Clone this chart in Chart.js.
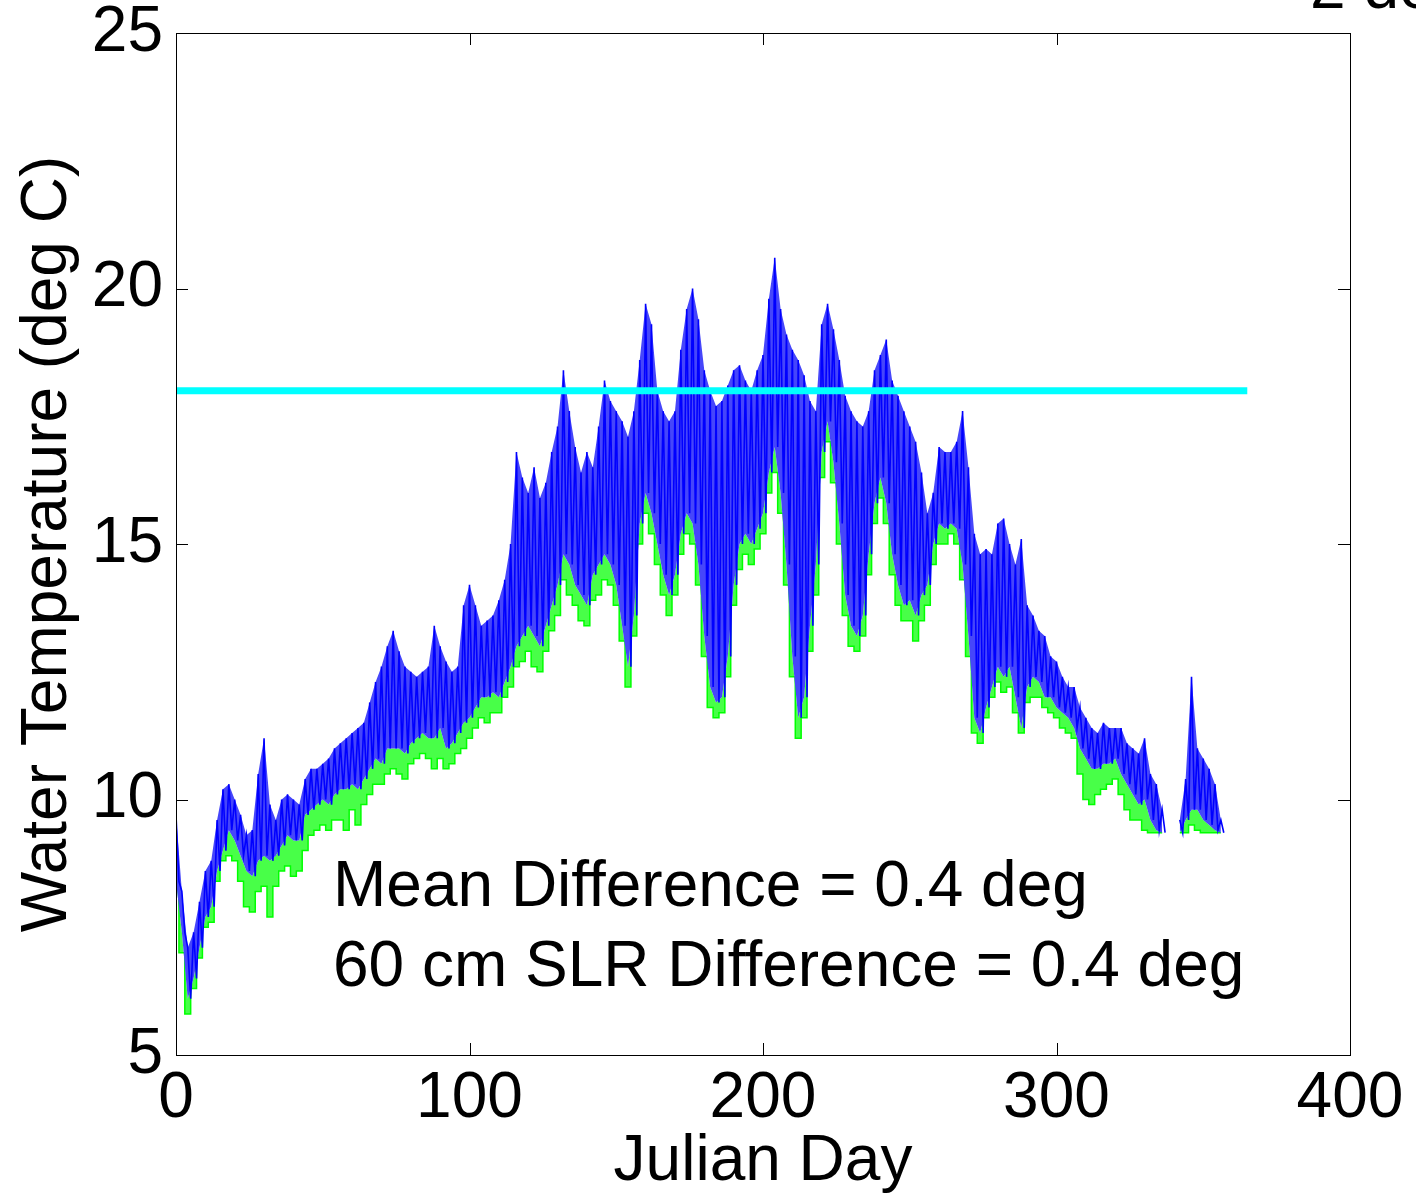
<!DOCTYPE html>
<html>
<head>
<meta charset="utf-8">
<script src="https://cdn.jsdelivr.net/npm/chart.js@4.4.0/dist/chart.umd.min.js"></script>
<style>
  html, body { margin: 0; padding: 0; background: #fff; }
</style>
</head>
<body>
<canvas id="myChart" width="1416" height="1201"></canvas>
<script>
const dayStep = 2;
const blueHigh = [
  9.7, 8.2, 7.1, 7.4, 8.0, 8.6, 8.8, 9.6, 10.2, 10.3,
  10.0, 9.7, 9.3, 9.4, 10.5, 11.2, 9.9, 9.6, 10.0, 10.1,
  10.0, 9.9, 10.4, 10.6, 10.6, 10.7, 10.8, 11.0, 11.1, 11.2,
  11.3, 11.4, 11.5, 11.9, 12.3, 12.6, 13.0, 13.3, 12.9, 12.6,
  12.5, 12.4, 12.5, 12.6, 13.4, 13.0, 12.7, 12.5, 12.6, 13.8,
  14.2, 13.8, 13.4, 13.5, 13.6, 13.9, 14.3, 15.0, 16.8, 16.3,
  16.0, 16.5, 15.9, 16.2, 16.8, 17.3, 18.4, 17.6, 16.9, 16.4,
  16.8, 16.5, 17.3, 18.2, 17.8, 17.6, 17.4, 17.1, 17.6, 18.6,
  19.7, 19.3, 18.0, 17.6, 17.4, 17.6, 18.8, 19.6, 20.0, 19.4,
  18.4, 18.0, 17.7, 17.8, 18.1, 18.4, 18.5, 18.2, 18.0, 18.4,
  18.7, 19.8, 20.6, 19.6, 19.1, 18.8, 18.6, 18.3, 17.8, 17.6,
  19.3, 19.7, 19.2, 18.6, 17.9, 17.6, 17.4, 17.3, 17.6, 18.4,
  18.7, 19.0, 18.2, 17.9, 17.6, 17.3, 17.0, 16.4, 15.6, 16.0,
  16.9, 16.8, 16.8, 17.0, 17.6, 16.5, 15.2, 14.8, 14.9, 14.8,
  15.4, 15.5, 15.0, 14.6, 15.1, 13.8, 13.6, 13.3, 13.2, 12.8,
  12.7, 12.4, 12.2, 12.2, 11.8, 11.6, 11.4, 11.3, 11.5, 11.4,
  11.4, 11.4, 11.1, 11.0, 10.9, 11.2, 10.5, 10.3, 9.8, null,
  null, 9.6, 10.4, 12.4, 11.0, 10.8, 10.6, 10.3, 9.6
];
const blueLow = [
  8.4, 7.4, 6.1, 6.5, 7.1, 7.7, 7.9, 8.6, 9.0, 9.4,
  9.2, 8.9, 8.6, 8.5, 8.8, 8.9, 8.8, 8.9, 9.1, 9.3,
  9.2, 9.2, 9.7, 9.8, 9.9, 10.0, 9.9, 10.1, 10.2, 10.2,
  10.3, 10.2, 10.4, 10.6, 10.8, 10.7, 11.0, 11.0, 11.0, 10.9,
  11.1, 11.2, 11.3, 11.2, 11.2, 11.4, 11.0, 11.1, 11.3, 11.5,
  11.6, 11.8, 12.0, 12.0, 12.1, 12.0, 12.3, 12.6, 13.0, 13.2,
  13.4, 13.2, 13.0, 13.4, 13.8, 14.2, 14.8, 14.6, 14.2, 14.0,
  13.8, 14.4, 14.6, 14.8, 14.6, 14.2, 13.4, 12.6, 13.6, 15.4,
  16.0, 15.6, 15.0, 14.4, 14.0, 14.4, 15.2, 15.6, 15.4, 14.6,
  13.2, 12.2, 11.9, 12.0, 12.8, 14.2, 15.0, 15.2, 15.0, 15.3,
  15.6, 16.4, 16.9, 16.0, 14.6, 12.8, 11.6, 12.0, 13.4, 14.6,
  16.8, 17.4, 16.6, 15.4, 14.0, 13.4, 13.2, 13.6, 14.8, 15.8,
  16.3, 15.8, 14.8, 14.2, 13.8, 13.9, 13.6, 14.0, 14.2, 15.0,
  15.4, 15.3, 15.4, 15.3, 14.6, 13.2, 11.6, 11.3, 11.8, 12.2,
  12.6, 12.4, 12.6, 12.0, 11.4, 12.2, 12.4, 12.3, 12.0, 12.0,
  11.8, 11.7, 11.6, 11.4, 11.0, 10.8, 10.6, 10.6, 10.7, 10.7,
  10.8, 10.5, 10.3, 10.1, 9.9, 10.0, 9.6, 9.4, 9.35, null,
  null, 9.35, 9.6, 9.8, 9.8, 9.6, 9.5, 9.4, 9.35
];
const greenLow = [
  8.3, 7.0, 5.8, 6.3, 6.9, 7.5, 7.6, 8.4, 8.8, 8.9,
  8.8, 8.4, 7.9, 7.8, 8.2, 8.3, 7.7, 8.3, 8.6, 8.7,
  8.5, 8.6, 9.0, 9.3, 9.4, 9.5, 9.4, 9.6, 9.6, 9.4,
  9.8, 9.5, 9.9, 10.1, 10.3, 10.3, 10.5, 10.6, 10.5, 10.4,
  10.7, 10.8, 10.9, 10.8, 10.6, 10.8, 10.6, 10.7, 10.9, 11.0,
  11.2, 11.4, 11.6, 11.5, 11.7, 11.7, 12.0, 12.2, 12.6, 12.7,
  12.9, 12.6, 12.5, 12.9, 13.3, 13.6, 14.3, 14.0, 13.8, 13.5,
  13.4, 13.9, 14.0, 14.3, 14.2, 13.8, 13.1, 12.2, 13.2, 15.0,
  15.6, 15.2, 14.6, 14.0, 13.6, 14.0, 14.8, 15.2, 15.0, 14.2,
  12.8, 11.8, 11.6, 11.7, 12.4, 13.8, 14.5, 14.8, 14.6, 14.9,
  15.2, 16.0, 16.4, 15.6, 14.2, 12.4, 11.2, 11.6, 12.9, 14.0,
  16.3, 17.0, 16.2, 15.0, 13.6, 13.0, 12.9, 13.2, 14.4, 15.4,
  15.9, 15.4, 14.4, 13.8, 13.5, 13.5, 13.1, 13.5, 13.8, 14.6,
  15.0, 15.0, 15.2, 15.0, 14.3, 12.8, 11.3, 11.1, 11.6, 12.0,
  12.3, 12.1, 12.2, 11.7, 11.3, 11.9, 12.0, 12.0, 11.8, 11.7,
  11.6, 11.4, 11.3, 11.2, 10.5, 10.0, 9.9, 10.1, 10.2, 10.3,
  10.4, 10.1, 9.8, 9.6, 9.6, 9.4, 9.35, 9.35, 9.35, null,
  null, 9.35, 9.35, 9.5, 9.4, 9.35, 9.35, 9.35, 9.35
];
const limitDays = [0, 365];
const limitTemp = 18;
const noteX = 53.5;
const noteY = [7.92, 6.35];
const noteLines = ['Mean Difference = 0.4 deg', '60 cm SLR Difference = 0.4 deg'];
const titleText = '2 deg';

const days = blueHigh.map((v, i) => i * dayStep);
const toPts = arr => arr.map((v, i) => ({ x: days[i], y: v }));

// zigzag high -> low -> high, so the band shows the daily swing as strokes
const swing = [];
blueHigh.forEach((v, i) => {
  swing.push({ x: days[i], y: v });
  swing.push({ x: days[i] + 1, y: blueLow[i] });
});

const FONT = "'Liberation Sans', Arial, Helvetica, sans-serif";

// box + inward ticks like matlab axes
const axesBox = {
  id: 'axesBox',
  afterDatasetsDraw(chart) {
    const { ctx, chartArea: a, scales: { x, y } } = chart;
    ctx.save();
    ctx.strokeStyle = '#000';
    ctx.lineWidth = 1;
    ctx.strokeRect(a.left + 0.5, a.top + 0.5, a.right - a.left, a.bottom - a.top);
    const tl = 12;
    ctx.beginPath();
    x.ticks.forEach(t => {
      const px = Math.round(x.getPixelForValue(t.value)) + 0.5;
      ctx.moveTo(px, a.bottom); ctx.lineTo(px, a.bottom - tl);
      ctx.moveTo(px, a.top); ctx.lineTo(px, a.top + tl);
    });
    y.ticks.forEach(t => {
      const py = Math.round(y.getPixelForValue(t.value)) + 0.5;
      ctx.moveTo(a.left, py); ctx.lineTo(a.left + tl, py);
      ctx.moveTo(a.right, py); ctx.lineTo(a.right - tl, py);
    });
    ctx.stroke();
    ctx.restore();
  }
};

const notes = {
  id: 'notes',
  afterDraw(chart) {
    const { ctx, scales: { x, y } } = chart;
    ctx.save();
    ctx.fillStyle = '#000';
    ctx.font = '64px ' + FONT;
    ctx.textBaseline = 'alphabetic';
    ctx.textAlign = 'left';
    noteLines.forEach((txt, i) => {
      ctx.fillText(txt, x.getPixelForValue(noteX), y.getPixelForValue(noteY[i]));
    });
    ctx.fillText(titleText, 1310, 8);
    ctx.restore();
  }
};

new Chart(document.getElementById('myChart'), {
  type: 'line',
  data: {
    datasets: [
      {
        data: limitDays.map(d => ({ x: d, y: limitTemp })),
        borderColor: '#00ffff',
        borderWidth: 7,
        pointRadius: 0,
        fill: false
      },
      {
        data: swing,
        borderColor: '#0000ff',
        borderWidth: 1.6,
        pointRadius: 0,
        fill: false
      },
      {
        data: toPts(blueHigh),
        borderWidth: 0,
        borderColor: 'rgba(0,0,0,0)',
        backgroundColor: 'rgb(70,70,250)',
        pointRadius: 0,
        fill: '+1'
      },
      {
        data: toPts(blueLow),
        borderWidth: 0,
        borderColor: 'rgba(0,0,0,0)',
        pointRadius: 0,
        fill: false
      },
      {
        data: toPts(greenLow),
        borderColor: '#00ff00',
        borderWidth: 1.5,
        stepped: 'middle',
        backgroundColor: 'rgba(40,255,40,0.85)',
        pointRadius: 0,
        fill: '-1'
      }
    ]
  },
  options: {
    responsive: false,
    animation: false,
    devicePixelRatio: 1,
    spanGaps: false,
    layout: { padding: { left: 0, top: 33, right: 66, bottom: 0 } },
    plugins: {
      legend: { display: false },
      tooltip: { enabled: false }
    },
    elements: { line: { tension: 0 } },
    scales: {
      x: {
        type: 'linear',
        min: 0,
        max: 400,
        grid: { display: false, drawTicks: false },
        border: { display: false },
        ticks: {
          stepSize: 100,
          padding: 12,
          maxRotation: 0,
          color: '#000',
          font: { family: FONT, size: 64, lineHeight: 1 }
        },
        title: {
          display: true,
          text: 'Julian Day',
          color: '#000',
          padding: 0,
          font: { family: FONT, size: 64, lineHeight: 1.2 }
        },
        afterFit(scale) {
          scale.height = 146;
          scale.paddingLeft = 0;
          scale.paddingRight = 0;
        }
      },
      y: {
        type: 'linear',
        min: 5,
        max: 25,
        grid: { display: false, drawTicks: false },
        border: { display: false },
        ticks: {
          stepSize: 5,
          padding: 13,
          color: '#000',
          font: { family: FONT, size: 64, lineHeight: 1 }
        },
        title: {
          display: true,
          text: 'Water Temperature (deg C)',
          color: '#000',
          padding: { top: 10, bottom: 0 },
          font: { family: FONT, size: 64, lineHeight: 1.2 }
        },
        afterFit(scale) {
          scale.width = 176;
          scale.paddingTop = 0;
          scale.paddingBottom = 0;
        }
      }
    }
  },
  plugins: [axesBox, notes]
});
</script>
</body>
</html>
